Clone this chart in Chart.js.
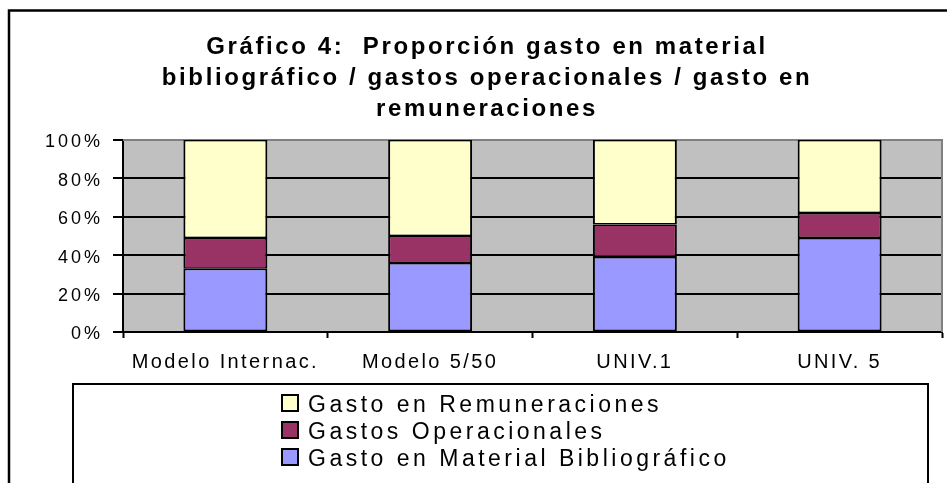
<!DOCTYPE html>
<html>
<head>
<meta charset="utf-8">
<title>Gráfico 4</title>
<script src="https://cdn.jsdelivr.net/npm/chart.js@4.4.1/dist/chart.umd.min.js"></script>
<style>
    html, body { margin: 0; padding: 0; background: #fff; overflow: hidden; }
    #wrap { width: 1000px; height: 520px; }
</style>
</head>
<body>
<div id="wrap">
    <canvas id="grafico4" width="1000" height="520"></canvas>
</div>
<script>
const categorias = ['Modelo Internac.', 'Modelo 5/50', 'UNIV.1', 'UNIV. 5']
const materialBibliografico = [33, 36, 39, 49]
const gastosOperacionales = [16, 14, 17, 13]
const remuneraciones = [51, 50, 44, 38]
const ticksY = [0, 20, 40, 60, 80, 100]
const titulo = [
    'Gráfico 4:  Proporción gasto en material',
    'bibliográfico / gastos operacionales / gasto en',
    'remuneraciones'
]

const FONT = "'Liberation Sans', Arial, sans-serif"

// wraps a draw function so that text gets some letter spacing
function conEspaciado(obj, fn, ls) {
    if (!obj || obj['_orig_' + fn]) return
    const orig = obj[fn]
    obj['_orig_' + fn] = orig
    obj[fn] = function (...args) {
        const c = this.ctx
        c.save()
        c.letterSpacing = ls
        orig.apply(this, args)
        c.restore()
    }
}

const espaciado = {
    id: 'espaciado',
    afterLayout(chart) {
        conEspaciado(chart.titleBlock, 'draw', '2.6px')
        conEspaciado(chart.scales.x, 'drawLabels', '2.4px')
        conEspaciado(chart.scales.y, 'drawLabels', '3px')
    }
}

// grey plot background + outer chart frame
const fondo = {
    id: 'fondo',
    beforeDraw(chart) {
        const { ctx, chartArea: a } = chart
        ctx.save()
        ctx.fillStyle = '#fff'
        ctx.fillRect(0, 0, chart.width, chart.height)
        ctx.fillStyle = '#C0C0C0'
        ctx.fillRect(a.left, a.top, a.right - a.left, a.bottom - a.top)
        ctx.strokeStyle = '#000'
        ctx.lineWidth = 2.5
        ctx.strokeRect(9, 10.5, 1100, 700)
        ctx.restore()
    },
    beforeDatasetsDraw(chart) {
        const { ctx, chartArea: a } = chart
        ctx.save()
        ctx.strokeStyle = '#808080'
        ctx.lineWidth = 2
        ctx.beginPath()
        ctx.moveTo(a.left, a.top)
        ctx.lineTo(a.right, a.top)
        ctx.lineTo(a.right, a.bottom)
        ctx.stroke()
        ctx.restore()
    }
}

// legend in a box below the chart, one entry per line, top series first
const leyenda = {
    id: 'leyenda',
    afterDraw(chart) {
        const ctx = chart.ctx
        ctx.save()
        ctx.strokeStyle = '#000'
        ctx.lineWidth = 2
        ctx.strokeRect(73, 384, 855, 300)
        const filas = [394, 421, 448]
        const ds = chart.data.datasets.slice().reverse()
        ctx.font = '23px ' + FONT
        ctx.letterSpacing = '3.5px'
        ctx.textBaseline = 'alphabetic'
        ds.forEach((d, i) => {
            const y = filas[i]
            ctx.fillStyle = d.backgroundColor
            ctx.fillRect(282, y + 1, 16, 16)
            ctx.strokeRect(282, y + 1, 16, 16)
            ctx.fillStyle = '#000'
            ctx.fillText(d.label, 308, y + 18)
        })
        ctx.restore()
    }
}

const barra = {
    borderColor: '#000',
    borderWidth: { top: 1.5, bottom: 1.5, left: 2, right: 2 },
    borderSkipped: false,
    barPercentage: 0.41,
    categoryPercentage: 1
}

new Chart(document.getElementById('grafico4'), {
    type: 'bar',
    data: {
        labels: categorias,
        datasets: [
            { label: 'Gasto en Material Bibliográfico', data: materialBibliografico, backgroundColor: '#9999FF', ...barra },
            { label: 'Gastos Operacionales', data: gastosOperacionales, backgroundColor: '#993366', ...barra },
            { label: 'Gasto en Remuneraciones', data: remuneraciones, backgroundColor: '#FFFFCC', ...barra }
        ]
    },
    options: {
        responsive: false,
        animation: false,
        devicePixelRatio: 1,
        layout: { padding: { left: 32, right: 58, top: 0, bottom: 0 } },
        plugins: {
            legend: { display: false },
            tooltip: { enabled: false },
            title: {
                display: true,
                text: titulo,
                color: '#000',
                font: { family: FONT, size: 24, weight: 'bold', lineHeight: '31px' },
                padding: { top: 32, bottom: 15 }
            }
        },
        scales: {
            x: {
                stacked: true,
                grid: {
                    display: true,
                    offset: true,
                    drawOnChartArea: false,
                    drawTicks: true,
                    tickLength: 6,
                    tickWidth: 2,
                    tickColor: '#000'
                },
                border: { display: true, color: '#000', width: 2 },
                ticks: {
                    color: '#000',
                    font: { family: FONT, size: 20 },
                    padding: 12,
                    maxRotation: 0,
                    autoSkip: false
                },
                afterFit(scale) { scale.height = 520 - 332 }
            },
            y: {
                stacked: true,
                min: 0,
                max: 100,
                afterBuildTicks(scale) { scale.ticks = ticksY.map(v => ({ value: v })) },
                grid: {
                    color: c => (c.tick && c.tick.value === 100) ? 'rgba(0,0,0,0)' : '#000',
                    lineWidth: 2,
                    tickLength: 10,
                    tickWidth: 2,
                    tickColor: '#000'
                },
                border: { display: true, color: '#000', width: 2 },
                ticks: {
                    color: '#000',
                    font: { family: FONT, size: 18 },
                    padding: 10,
                    labelOffset: 2.5,
                    callback: v => v + '%'
                },
                afterFit(scale) { scale.width = 123 - 32 }
            }
        }
    },
    plugins: [espaciado, fondo, leyenda]
})
</script>
</body>
</html>
